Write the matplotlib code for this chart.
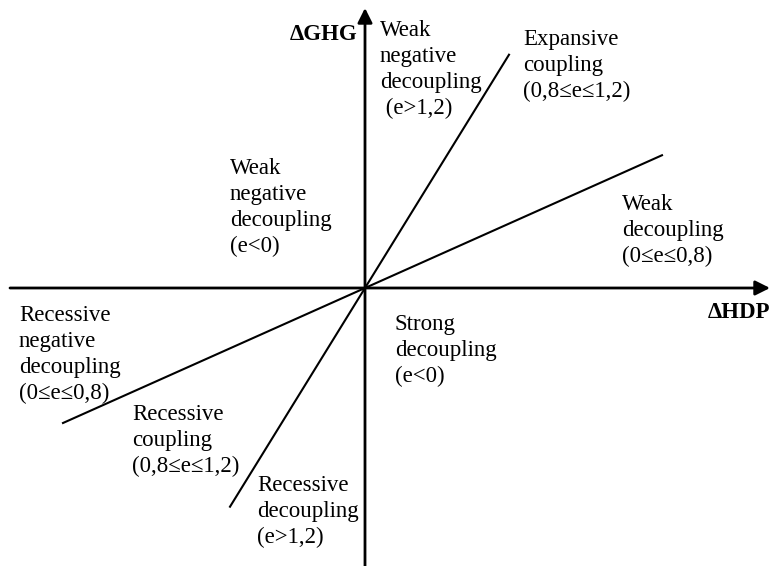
import matplotlib.pyplot as plt

plt.rcParams['font.family'] = ['Liberation Serif', 'DejaVu Serif']

# elasticity boundary lines through the origin (slope in pixel units)
slopes = [1.62, 0.447]
x_from = [-135, -302]
x_to = [144, 297]

regions = [
    "Weak\nnegative\ndecoupling\n (e>1,2)",
    "Expansive\ncoupling\n(0,8\u2264e\u22641,2)",
    "Weak\nnegative\ndecoupling\n(e<0)",
    "Weak\ndecoupling\n(0\u2264e\u22640,8)",
    "Recessive\nnegative\ndecoupling\n(0\u2264e\u22640,8)",
    "Recessive\ncoupling\n(0,8\u2264e\u22641,2)",
    "Recessive\ndecoupling\n(e>1,2)",
    "Strong\ndecoupling\n(e<0)",
]
# top-left corner of each label block
label_xy = [(15, 268), (158, 259), (-135, 130), (257, 94),
            (-346, -17), (-233, -116), (-108, -187), (30, -26)]

fig = plt.figure(figsize=(7.7, 5.66), dpi=100)
ax = fig.add_axes([0, 0, 1, 1])
ax.set_xlim(-365, 405)
ax.set_ylim(-278, 288)
ax.axis('off')

# axes with arrow heads
arrow = dict(arrowstyle='-|>', lw=2, color='black', mutation_scale=22,
             shrinkA=0, shrinkB=0)
ax.annotate('', xy=(405, 0), xytext=(-355, 0), arrowprops=arrow)
ax.annotate('', xy=(0, 280), xytext=(0, -278), arrowprops=arrow)

for k, a, b in zip(slopes, x_from, x_to):
    ax.plot([a, b], [k * a, k * b], color='black', lw=1.5)

for txt, (x, y) in zip(regions, label_xy):
    ax.text(x, y, txt, fontsize=16.5, ha='left', va='top', linespacing=1.3)

ax.text(-7, 253, "\u0394GHG", fontsize=16.5, fontweight='bold', ha='right', va='center')
ax.text(405, -24, "\u0394HDP", fontsize=16.5, fontweight='bold', ha='right', va='center')

fig.savefig('out.png', dpi=100)
